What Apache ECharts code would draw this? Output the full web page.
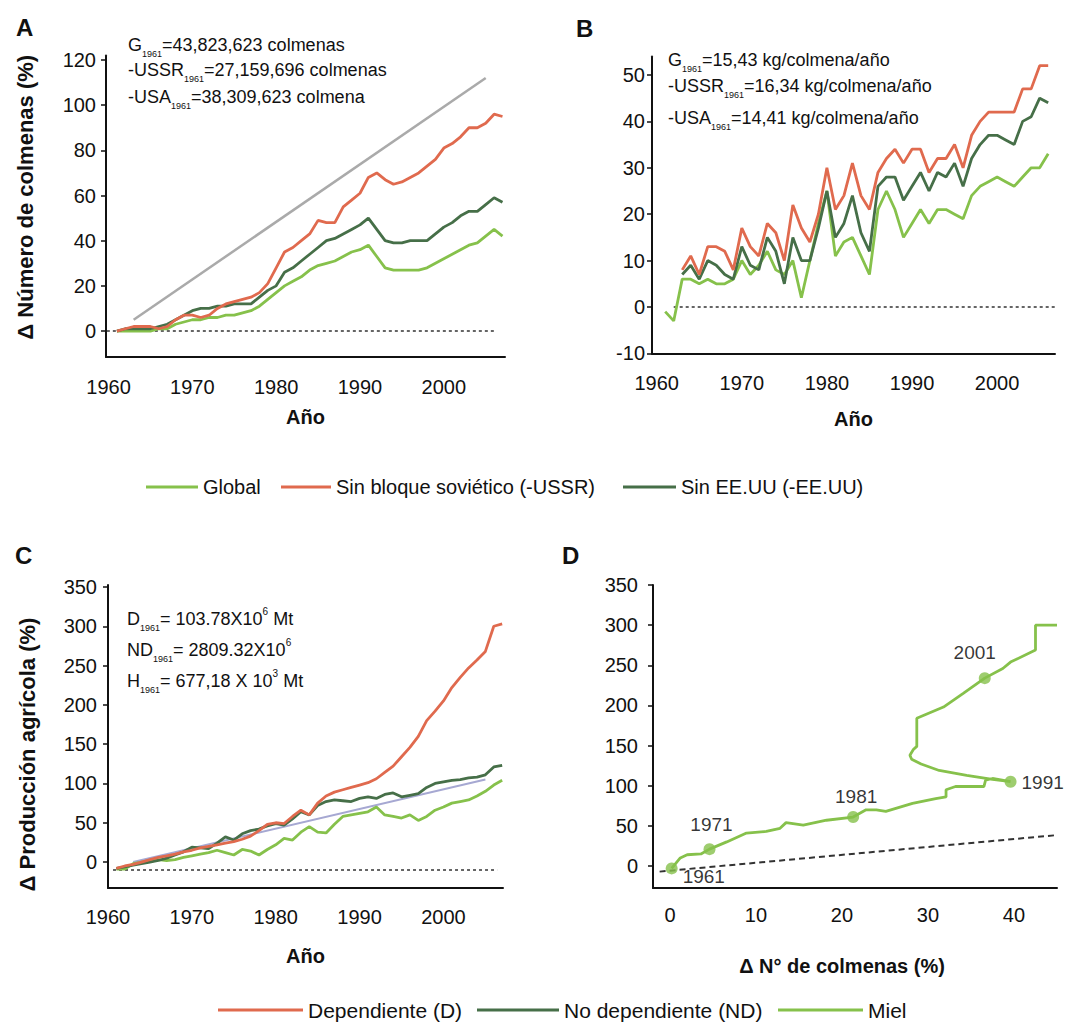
<!DOCTYPE html>
<html><head><meta charset="utf-8">
<script src="https://cdn.jsdelivr.net/npm/echarts@6/dist/echarts.min.js"></script>
<style>html,body{margin:0;padding:0;background:#fff}#c{width:1071px;height:1027px}</style>
</head><body><div id="c"></div>
<script>
// ---------- DATA ----------
const yearsAC = [1961,1962,1963,1964,1965,1966,1967,1968,1969,1970,1971,1972,1973,1974,1975,1976,1977,1978,1979,1980,1981,1982,1983,1984,1985,1986,1987,1988,1989,1990,1991,1992,1993,1994,1995,1996,1997,1998,1999,2000,2001,2002,2003,2004,2005,2006,2007];
const yearsB = [1961,1962,1963,1964,1965,1966,1967,1968,1969,1970,1971,1972,1973,1974,1975,1976,1977,1978,1979,1980,1981,1982,1983,1984,1985,1986,1987,1988,1989,1990,1991,1992,1993,1994,1995,1996,1997,1998,1999,2000,2001,2002,2003,2004,2005,2006];

// Panel A: change in number of hives (%)
const hivesGlobal = [0,0,0,0,0,1,1,3,4,5,5,6,6,7,7,8,9,11,14,17,20,22,24,27,29,30,31,33,35,36,38,33,28,27,27,27,27,28,30,32,34,36,38,39,42,45,42];
const hivesNoUSSR = [0,1,2,2,2,1,2,5,7,7,6,7,10,12,13,14,15,17,21,28,35,37,40,43,49,48,48,55,58,61,68,70,67,65,66,68,70,73,76,81,83,86,90,90,92,96,95];
const hivesNoUSA  = [0,1,1,1,1,2,3,5,7,9,10,10,11,11,12,12,12,15,18,20,26,28,31,34,37,40,41,43,45,47,50,45,40,39,39,40,40,40,43,46,48,51,53,53,56,59,57];
const refA_x = [1963, 2005];
const refA_y = [5, 112];
const zeroA_x = [1959.8, 2006.1];

// Panel B: change in honey yield (%)
const yieldGlobal = [-1,-3,6,6,5,6,5,5,6,10,7,9,12,8,7,10,2,10,18,25,11,14,15,11,7,21,25,21,15,18,21,18,21,21,20,19,24,26,27,28,27,26,28,30,30,33];
const yieldNoUSSR = [null,null,8,11,7,13,13,12,8,17,13,11,18,16,10,22,17,14,20,30,21,24,31,24,21,29,32,34,31,34,34,29,32,32,35,30,37,40,42,42,42,42,47,47,52,52];
const yieldNoUSA  = [null,null,7,9,6,10,9,7,6,13,9,8,15,12,5,15,10,10,17,25,15,18,24,16,12,26,28,28,23,26,29,25,29,28,31,26,32,35,37,37,36,35,40,41,45,44];
const zeroB_x = [1962, 2006.8];

// Panel C: change in agricultural production (%)
const prodDep   = [-8,-5,-3,0,3,6,8,10,13,15,18,20,22,24,26,29,33,40,48,50,49,58,66,60,75,84,89,92,95,98,101,106,114,122,134,146,160,180,192,205,222,235,247,257,268,300,303];
const prodNoDep = [-8,-6,-4,-2,0,2,5,9,13,19,18,17,24,32,28,36,40,42,46,49,47,55,64,60,72,77,79,78,77,81,83,81,86,88,83,85,87,95,100,102,104,105,107,108,111,121,123];
const prodHoney = [-9,-9,-2,0,2,3,2,3,6,8,10,12,15,12,9,16,14,9,16,22,30,28,38,45,38,37,48,58,60,62,64,70,60,58,56,60,53,58,66,70,75,77,79,84,90,98,104];
const refC_x = [1963, 2005];
const refC_y = [0, 105];
const zeroC_x = [1960.6, 2006.4];
const zeroC_y = [-10, -10];

// Panel D: path of hives change (%) vs dependent production change (%)
const dHives = [0.2,1.2,2.0,3.6,4.6,6.6,8.9,11.2,12.8,13.5,15.5,18.2,21.3,22.8,24.0,25.1,28.2,30.9,32.1,32.1,33.2,36.5,36.7,37.5,39.6,37.5,34.5,31.3,29.2,28.1,27.9,28.3,28.7,28.7,31.8,34.1,36.6,38.7,39.6,42.5,42.5,45.0];
const dProd  = [-3,10,14,15,21,30,41,43,47,54,51,57,61,70,70,68,78,84,86,95,99,99,107,109,105,108,113,119,127,133,138,145,149,184,198,215,234,246,254,269,300,300];
const dMarkYears = ['1961','1971','1981','1991','2001'];
const dMarkHives = [0.2, 4.6, 21.3, 39.6, 36.6];
const dMarkProd  = [-3, 21, 61, 105, 234];
const dashD_x = [-1.2, 45];
const dashD_y = [-7, 38.5];

// Tick labels
const ticksA = [0,20,40,60,80,100,120];
const ticksB = [-10,0,10,20,30,40,50];
const ticksCD = [0,50,100,150,200,250,300,350];
const ticksYear = [1960,1970,1980,1990,2000];
const ticksDx = [0,10,20,30,40];

// Annotation texts
const annoA = [['G','1961','=43,823,623 colmenas'],['-USSR','1961','=27,159,696 colmenas'],['-USA','1961','=38,309,623 colmena']];
const annoB = [['G','1961','=15,43 kg/colmena/año'],['-USSR','1961','=16,34 kg/colmena/año'],['-USA','1961','=14,41 kg/colmena/año']];
const annoC = [['D','1961','= 103.78X10','6',' Mt'],['ND','1961','= 2809.32X10','6',''],['H','1961','= 677,18 X 10','3',' Mt']];

// ---------- STYLE ----------
const FONT = "'Liberation Sans', Arial, sans-serif";
const TXT = '#111';
const C_LIGHT = '#86c14b', C_RED = '#e06a4e', C_DARK = '#466f48';
const LW = 2.8;

const zip = (xs, ys) => xs.map((x, i) => [x, ys[i]]);

function xAx(gi, min, max, labels, name, gap, margin, pad) {
  return {
    type: 'value', gridIndex: gi, min, max, splitLine: {show: false},
    axisLine: {onZero: false, lineStyle: {color: '#111', width: 2}},
    axisTick: {show: false},
    axisLabel: {customValues: labels, margin, fontSize: 20, color: TXT, fontFamily: FONT, formatter: v => String(v)},
    name, nameLocation: 'middle', nameGap: gap,
    nameTextStyle: {fontSize: 20, fontWeight: 'bold', color: TXT, fontFamily: FONT, padding: pad || 0}
  };
}
function yAx(gi, min, max, labels, name, gap, margin, pad) {
  return {
    type: 'value', gridIndex: gi, min, max, splitLine: {show: false},
    axisLine: {onZero: false, lineStyle: {color: '#111', width: 2}},
    axisTick: {show: true, customValues: labels, length: 5, lineStyle: {color: '#111', width: 1.5}},
    axisLabel: {customValues: labels, margin, fontSize: 20, color: TXT, fontFamily: FONT, formatter: v => String(v)},
    name, nameLocation: 'middle', nameRotate: 90, nameGap: gap,
    nameTextStyle: {fontSize: 22, fontWeight: 'bold', color: TXT, fontFamily: FONT, padding: pad || 0}
  };
}
function line(name, gi, data, color, width, z) {
  return {
    type: 'line', name, xAxisIndex: gi, yAxisIndex: gi, data, symbol: 'none', z,
    itemStyle: {color}, lineStyle: {color, width}, silent: true, animation: false
  };
}
function dotted(gi, data, type, width) {
  return {type: 'line', name: 'ref' + gi + type, xAxisIndex: gi, yAxisIndex: gi, data, symbol: 'none', z: 1,
    lineStyle: {color: '#333', width: width, type: type}, silent: true, animation: false};
}
function anno(rows, left, tops) {
  const rich = {
    b: {fontSize: 18, lineHeight: 26, verticalAlign: 'middle', fontFamily: FONT, fill: TXT, color: TXT},
    s: {fontSize: 9, lineHeight: 10, verticalAlign: 'bottom', fontFamily: FONT, fill: TXT, color: TXT},
    p: {fontSize: 10, lineHeight: 14, verticalAlign: 'top', fontFamily: FONT, fill: TXT, color: TXT}
  };
  return rows.map((r, i) => {
    let t = '{b|' + r[0] + '}{s|' + r[1] + '}{b|' + r[2] + '}';
    if (r.length > 3) t += '{p|' + r[3] + '}' + (r[4] ? '{b|' + r[4] + '}' : '');
    return {type: 'text', left: left, top: tops[i] - 13, style: {text: t, rich, fill: TXT, font: '18px ' + FONT}};
  });
}
function leg(name, left, top, w, fs) {
  return {data: [name], left, top, itemWidth: w, itemHeight: 3, icon: 'rect', padding: 0, selectedMode: false,
    textStyle: {fontSize: fs, lineHeight: 22, color: TXT, fontFamily: FONT}};
}
function letter(t, x, y) {
  return {type: 'text', x, y, style: {text: t, font: 'bold 24px ' + FONT, fill: '#111', verticalAlign: 'middle', align: 'left'}};
}

const markData = dMarkYears.map((n, i) => ({name: n, value: [dMarkHives[i], dMarkProd[i]]}));
const markLabel = [
  {position: 'right', offset: [0, 8]},
  {position: 'top', offset: [2, -4]},
  {position: 'top', offset: [3, 0]},
  {position: 'right', offset: [0, 1]},
  {position: 'top', offset: [-10, -5]}
];
markData.forEach((d, i) => { d.label = markLabel[i]; });

const option = {
  backgroundColor: '#fff',
  animation: false,
  textStyle: {fontFamily: FONT, color: TXT},
  grid: [
    {left: 106, top: 55.5, width: 399, height: 301.5},
    {left: 652, top: 56.4, width: 403, height: 297},
    {left: 108, top: 585, width: 395, height: 303},
    {left: 653, top: 585, width: 404, height: 303}
  ],
  xAxis: [
    xAx(0, 1959.7, 2007.3, ticksYear, 'Año', 50, 20),
    xAx(1, 1959.45, 2006.8, ticksYear, 'Año', 56, 20),
    xAx(2, 1960, 2007.1, ticksYear, 'Año', 58, 19),
    xAx(3, -1.97, 45, ticksDx, 'Δ N° de colmenas (%)', 68, 17, [0, 26, 0, 0])
  ],
  yAxis: [
    yAx(0, -11.5, 122, ticksA, 'Δ Número de colmenas (%)', 70, 10, [0, 0, 0, 18]),
    yAx(1, -10, 54, ticksB, '', 0, 7),
    yAx(2, -33, 352.5, ticksCD, 'Δ Producción agrícola (%)', 70, 11, [0, 36, 0, 0]),
    yAx(3, -27.4, 350, ticksCD, '', 0, 15)
  ],
  legend: [
    leg('Global', 146, 476, 52, 20),
    leg('Sin bloque soviético (-USSR)', 281, 476, 50, 20),
    leg('Sin EE.UU (-EE.UU)', 623, 476, 53, 20),
    leg('Dependiente (D)', 218, 999, 85, 21),
    leg('No dependiente (ND)', 477, 999, 82, 21),
    leg('Miel', 778, 999, 85, 21)
  ],
  graphic: [
    letter('A', 16, 27), letter('B', 576, 28), letter('C', 15, 555), letter('D', 562, 555)
  ].concat(anno(annoA, 128, [49, 74, 101]), anno(annoB, 668, [64, 90, 122]), anno(annoC, 127, [619, 650, 681])),
  series: [
    // A
    dotted(0, zip(zeroA_x, [0, 0]), [3, 3], 1.5),
    line('refA', 0, zip(refA_x, refA_y), '#aaaaaa', 2.5, 2),
    line('Global', 0, zip(yearsAC, hivesGlobal), C_LIGHT, LW, 3),
    line('Sin EE.UU (-EE.UU)', 0, zip(yearsAC, hivesNoUSA), C_DARK, LW, 4),
    line('Sin bloque soviético (-USSR)', 0, zip(yearsAC, hivesNoUSSR), C_RED, LW, 5),
    // B
    dotted(1, zip(zeroB_x, [0, 0]), [3, 3], 1.5),
    line('Global', 1, zip(yearsB, yieldGlobal), C_LIGHT, LW, 3),
    line('Sin EE.UU (-EE.UU)', 1, zip(yearsB, yieldNoUSA), C_DARK, LW, 4),
    line('Sin bloque soviético (-USSR)', 1, zip(yearsB, yieldNoUSSR), C_RED, LW, 5),
    // C
    dotted(2, zip(zeroC_x, zeroC_y), [3, 3], 1.5),
    line('refC', 2, zip(refC_x, refC_y), '#a6a8d2', 2, 2),
    line('Miel', 2, zip(yearsAC, prodHoney), C_LIGHT, LW, 3),
    line('No dependiente (ND)', 2, zip(yearsAC, prodNoDep), C_DARK, LW, 4),
    line('Dependiente (D)', 2, zip(yearsAC, prodDep), C_RED, LW, 5),
    // D
    dotted(3, zip(dashD_x, dashD_y), [6, 4], 2),
    line('Miel', 3, zip(dHives, dProd), C_LIGHT, LW, 3),
    {type: 'scatter', name: 'Miel', xAxisIndex: 3, yAxisIndex: 3, data: markData, symbolSize: 12, z: 6,
      itemStyle: {color: C_LIGHT}, silent: true,
      label: {show: true, formatter: '{b}', fontSize: 19, color: '#000', fontFamily: FONT}}
  ]
};
const chart = echarts.init(document.getElementById('c'), null, {renderer: 'svg', width: 1071, height: 1027});
chart.setOption(option);
</script>
</body></html>
